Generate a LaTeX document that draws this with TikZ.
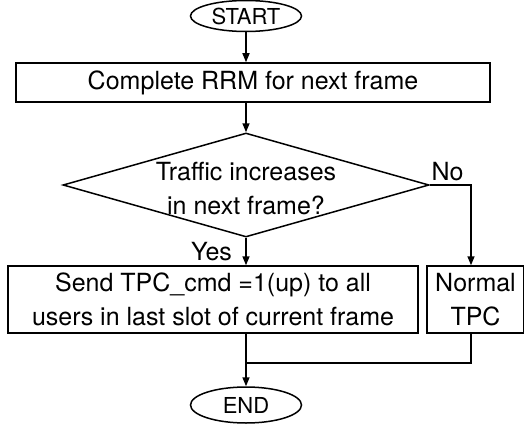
\documentclass[tikz,border=0pt]{standalone}
\usepackage{fontspec}
\setmainfont{TeX Gyre Heros}
\usetikzlibrary{shapes.geometric,arrows.meta}

\begin{document}
\begin{tikzpicture}[x=1pt,y=-1pt,line width=1.5pt,
    >={Triangle[length=9pt,width=7pt]},
    every node/.style={font=\fontsize{25}{34}\selectfont},
    terminal/.style={ellipse,draw,inner sep=0pt,minimum width=111pt,
        minimum height=31pt,font=\fontsize{22}{26}\selectfont},
    process/.style={rectangle,draw,align=center,inner sep=0pt},
    decision/.style={diamond,draw,inner sep=0pt,minimum width=366pt,
        minimum height=104pt}]
    \useasboundingbox (0,0) rectangle (524,425);

    % blocks
    \node[terminal] (start) at (246,16) {START};
    \node[process,minimum width=474pt,minimum height=39pt] (rrm) at (253,82.5)
        {Complete RRM for next frame};
    \node[decision] (dec) at (246,185) {};
    \node[align=center] (question) at (246,189)
        {Traffic increases\\in next frame?};
    \node[process,minimum width=410pt,minimum height=67pt] (send) at (213,299.5)
        {Send TPC\_cmd =1(up) to all\\users in last slot of current frame};
    \node[process,minimum width=97pt,minimum height=67pt] (normal) at (475.5,299.5)
        {Normal\\TPC};
    \node[terminal,minimum height=36pt] (end) at (246,405) {END};
    \coordinate (merge) at (246,363);

    % flow
    \draw[->] (start) -- (start |- rrm.north);
    \draw[->] (start |- rrm.south) -- (dec.north);
    \draw[->] (dec.south) -- (dec.south |- send.north)
        node[midway,left=10pt] {Yes};
    \draw[->] (dec.east) node[anchor=south west,inner sep=1pt,yshift=2pt] {No}
        -| ([xshift=-4.5pt]normal.north);
    \draw[->] (send.south -| dec.south) -- (end.north);
    \draw ([xshift=-4.5pt]normal.south) |- (merge);
\end{tikzpicture}
\end{document}
